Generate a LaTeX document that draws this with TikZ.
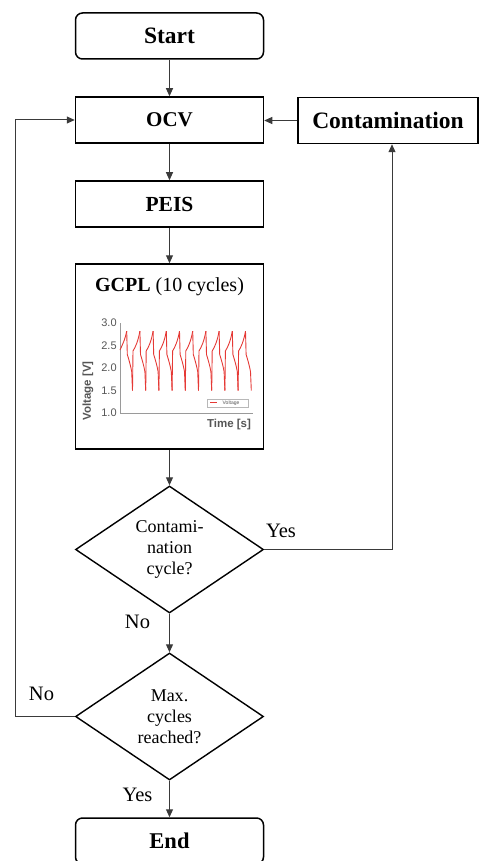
\documentclass[tikz,border=0pt]{standalone}
\usepackage{fontspec}
\setmainfont{Liberation Serif}
\newfontfamily\chartsans{Liberation Sans}
\usetikzlibrary{shapes.geometric,arrows.meta}
\definecolor{connc}{HTML}{3A3A3A}
\definecolor{chartred}{HTML}{E53935}
\definecolor{axisgray}{HTML}{9A9A9A}
\definecolor{labgray}{HTML}{555555}
\begin{document}
\begin{tikzpicture}[x=1pt,y=1pt,
  procbox/.style={draw=black,line width=1.5pt,minimum width=188pt,minimum height=46pt,inner sep=0pt,font=\bfseries},
  termbox/.style={procbox,rounded corners=7pt},
  decbox/.style={draw=black,line width=1.4pt,diamond,aspect=1.48,minimum width=188pt,minimum height=127pt,inner sep=0pt,align=center,font=\fontsize{18}{21}\selectfont},
  conn/.style={draw=connc,line width=1pt,-{Triangle[length=8pt,width=7pt]}},
  lab/.style={font=\fontsize{20.5}{24}\selectfont,inner sep=0pt},
  tick/.style={font=\chartsans\fontsize{11}{12}\selectfont,text=labgray,inner sep=0pt},
  ctitle/.style={font=\chartsans\bfseries\fontsize{11.5}{12}\selectfont,text=labgray,inner sep=0pt},
  curve/.style={draw=chartred,line width=0.9pt,line join=round}
]
\useasboundingbox (0,0) rectangle (479,-861);

\node[termbox,font=\bfseries\fontsize{23.5}{27}\selectfont] (start) at (169.5,-36) {Start};
\node[procbox,font=\bfseries\fontsize{21}{25}\selectfont] (ocv) at (169.5,-120) {OCV};
\node[procbox,minimum width=180pt,font=\bfseries\fontsize{23.5}{27}\selectfont] (cont) at (388,-120.5) {Contamination};
\node[procbox,font=\bfseries\fontsize{21.5}{25}\selectfont] (peis) at (169.5,-204) {PEIS};
\node[procbox,minimum height=185pt] (gcpl) at (169.5,-356.5) {};
\node[font=\fontsize{20}{24}\selectfont,inner sep=0pt] (gtitle) at (169.5,-287) {\textbf{GCPL} (10 cycles)};
\node[decbox] (d1) at (169.5,-549.5) {Contami-\\nation\\cycle?};
\node[decbox] (d2) at (169.5,-716.5) {Max.\\cycles\\reached?};
\node[termbox,font=\bfseries\fontsize{22.5}{26}\selectfont] (end) at (169.5,-841) {End};

\coordinate (yescorner) at (392,-549.5);
\coordinate (nocornerA) at (15,-716.5);
\coordinate (nocornerB) at (15,-120);

\draw[conn] (start) -- (ocv);
\draw[conn] (ocv) -- (peis);
\draw[conn] (peis) -- (gcpl);
\draw[conn] (gcpl) -- (d1);
\draw[conn] (d1.south) -- (d2.north);
\draw[conn] (d2.south) -- (end);
\draw[conn] (d1.east) -- (yescorner) -- (yescorner |- cont.south);
\draw[conn] (cont.west) -- (ocv.east |- cont.west);
\draw[conn] (d2.west) -- (nocornerA) -- (nocornerB) -- (ocv.west);

\node[lab] (lyes1) at (281,-531) {Yes};
\node[lab] (lno1) at (137.5,-622) {No};
\node[lab] (lno2) at (41.5,-694) {No};
\node[lab] (lyes2) at (137.5,-794.5) {Yes};

% chart
\begin{scope}[shift={(120,-413)},y=45pt]
  \draw[axisgray,line width=0.8pt] (0,2) -- (0,0) -- (133,0);
  \foreach \v/\t in {0/1.0,0.5/1.5,1/2.0,1.5/2.5,2/3.0}
    \node[tick] (tk\t) at (-11,\v) {\t};
  \node[ctitle,rotate=90] (ylab) at (-32,0.49) {Voltage [V]};
  \node[ctitle] (xlab) at (109,-0.25) {Time [s]};
  \draw[draw=axisgray!70,line width=0.4pt,fill=white] (87,0.14) rectangle (128,0.31);
  \draw[chartred,line width=0.9pt] (90,0.225) -- (97,0.225);
  \node[font=\chartsans\fontsize{5}{6}\selectfont,text=labgray,inner sep=0pt] (legtext) at (111,0.225) {Voltage};
  \draw[curve] (0,1.4) .. controls (2,1.5) and (5,1.62) .. (6.7,1.82);
  \foreach \k in {0,...,9}{
    \pgfmathsetmacro\xp{6.7+13.2*\k}
    \draw[curve] (\xp,1.82) -- (\xp+0.6,1.3) .. controls (\xp+2,1.2) and (\xp+4,1.05) .. (\xp+5,0.92) -- (\xp+5.8,0.5);
    \ifnum\k<9
      \draw[curve] (\xp+5.8,0.5) -- (\xp+6.3,1.38) .. controls (\xp+8.5,1.45) and (\xp+11.5,1.6) .. (\xp+13.2,1.82);
    \fi
  }
\end{scope}
\end{tikzpicture}
\end{document}
